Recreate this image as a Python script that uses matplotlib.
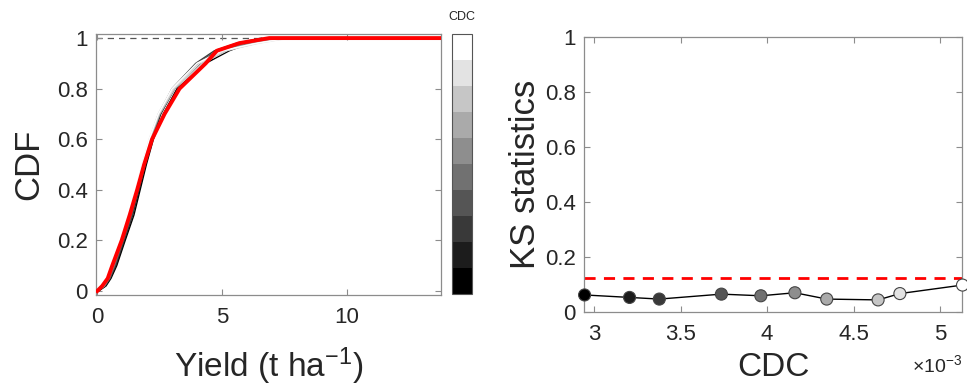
import numpy as np
import matplotlib
matplotlib.use("Agg")
import matplotlib.pyplot as plt
from matplotlib.colors import ListedColormap
from matplotlib.colorbar import ColorbarBase

plt.rcParams['font.family'] = ['Liberation Sans', 'DejaVu Sans']
plt.rcParams['mathtext.default'] = 'regular'

# --- left panel: CDF of yield, one gray curve per CDC level + red reference ---
cdf_levels = [0, 0.02, 0.05, 0.1, 0.2, 0.3, 0.4, 0.5, 0.6, 0.7, 0.8, 0.9, 0.95, 0.98, 1.0]
yield_red = [0, 0.2, 0.42, 0.6, 0.98, 1.3, 1.6, 1.88, 2.2, 2.7, 3.3, 4.35, 4.8, 5.7, 6.9]
yield_gray = [
    [0.05, 0.35, 0.55, 0.78, 1.12, 1.47, 1.72, 1.97, 2.25, 2.65, 3.2, 4.35, 5.3, 6.1, 7.0],
    [0.05, 0.32, 0.52, 0.74, 1.08, 1.42, 1.68, 1.93, 2.2, 2.55, 3.1, 4.15, 4.95, 5.9, 6.9],
    [0.0, 0.3, 0.5, 0.72, 1.05, 1.4, 1.65, 1.9, 2.18, 2.5, 3.0, 3.95, 4.7, 5.6, 6.6],
    [0.0, 0.3, 0.5, 0.7, 1.05, 1.38, 1.63, 1.88, 2.15, 2.5, 3.05, 4.0, 4.8, 5.8, 7.2],
    [0.0, 0.28, 0.48, 0.68, 1.02, 1.35, 1.62, 1.86, 2.15, 2.52, 3.1, 4.05, 4.9, 6.0, 7.4],
    [0.0, 0.28, 0.46, 0.66, 1.0, 1.32, 1.6, 1.85, 2.12, 2.48, 3.05, 4.1, 5.0, 6.2, 7.5],
    [0.0, 0.26, 0.45, 0.64, 0.98, 1.3, 1.58, 1.84, 2.1, 2.45, 3.0, 4.0, 5.1, 6.3, 7.6],
    [0.0, 0.25, 0.44, 0.62, 0.96, 1.28, 1.55, 1.82, 2.1, 2.5, 3.1, 4.2, 5.2, 6.4, 7.6],
    [0.0, 0.25, 0.43, 0.6, 0.94, 1.26, 1.54, 1.8, 2.08, 2.45, 3.05, 4.1, 5.1, 6.5, 7.7],
    [0.0, 0.24, 0.42, 0.6, 0.93, 1.25, 1.52, 1.8, 2.08, 2.45, 3.0, 4.0, 5.0, 6.4, 7.7],
]

# --- right panel: KS statistic vs CDC ---
cdc = [2.945e-3, 3.205e-3, 3.377e-3, 3.736e-3, 3.964e-3, 4.161e-3, 4.345e-3, 4.642e-3, 4.768e-3, 5.13e-3]
ks = [0.062, 0.053, 0.047, 0.065, 0.059, 0.070, 0.047, 0.044, 0.067, 0.098]
ks_crit = 0.122

grays = np.linspace(0, 1, 10)
gray_colors = [(g, g, g) for g in grays]

axis_col = '#8c8c8c'
text_col = '#262626'

fig = plt.figure(figsize=(9.67, 3.9), dpi=100)

ax1 = fig.add_axes([0.0993, 0.2436, 0.357, 0.669])
ax1.axhline(1.0, color='#555555', lw=0.9, ls=(0, (5, 4)), zorder=1)
for i, ys in enumerate(yield_gray):
    ax1.plot(ys, cdf_levels, color=gray_colors[i], lw=1.0, zorder=2)
ax1.plot(yield_red + [13.8], cdf_levels + [1.0], color='red', lw=2.8, zorder=3)
ax1.set_xlim(-0.05, 13.8)
ax1.set_ylim(-0.0158, 1.0158)
ax1.set_xticks([0, 5, 10])
ax1.set_yticks([0, 0.2, 0.4, 0.6, 0.8, 1])
ax1.set_yticklabels(['0', '0.2', '0.4', '0.6', '0.8', '1'])
ax1.set_ylabel('CDF', fontsize=25, color=text_col, labelpad=8)
ax1.set_xlabel('Yield (t ha$^{-1}$)', fontsize=24, color=text_col, labelpad=12)

cax = fig.add_axes([0.4674, 0.2462, 0.0207, 0.666])
cb = ColorbarBase(cax, cmap=ListedColormap(gray_colors), orientation='vertical')
cb.set_ticks([])
cb.outline.set_edgecolor('#555555')
cb.outline.set_linewidth(0.8)
cax.set_title('CDC', fontsize=9, color=text_col, pad=10)

ax2 = fig.add_axes([0.604, 0.2, 0.391, 0.705])
x_e3 = np.array(cdc) * 1e3
ax2.axhline(ks_crit, color='red', lw=2, ls=(0, (4, 3)), zorder=1)
ax2.plot(x_e3, ks, color='black', lw=1.0, zorder=2)
ax2.scatter(x_e3, ks, s=75, c=gray_colors, edgecolors='#444444', linewidths=0.8, zorder=3, clip_on=False)
ax2.set_xlim(2.942, 5.128)
ax2.set_ylim(0, 1)
ax2.set_xticks([3, 3.5, 4, 4.5, 5])
ax2.set_xticklabels(['3', '3.5', '4', '4.5', '5'])
ax2.set_yticks([0, 0.2, 0.4, 0.6, 0.8, 1])
ax2.set_yticklabels(['0', '0.2', '0.4', '0.6', '0.8', '1'])
ax2.set_ylabel('KS statistics', fontsize=25, color=text_col, labelpad=2)
ax2.set_xlabel('CDC', fontsize=24, color=text_col, labelpad=5)
fig.text(0.995, 0.035, r'$\times$10$^{-3}$', fontsize=14, color=text_col, ha='right', va='bottom')

for ax in (ax1, ax2):
    for s in ax.spines.values():
        s.set_color(axis_col)
        s.set_linewidth(0.9)
    ax.tick_params(direction='in', length=4, width=0.8, color=axis_col,
                   labelsize=16, labelcolor=text_col, top=True, right=True)
    ax.tick_params(axis='x', pad=9)
    ax.tick_params(axis='y', pad=6)

fig.savefig('out.png', dpi=100)
